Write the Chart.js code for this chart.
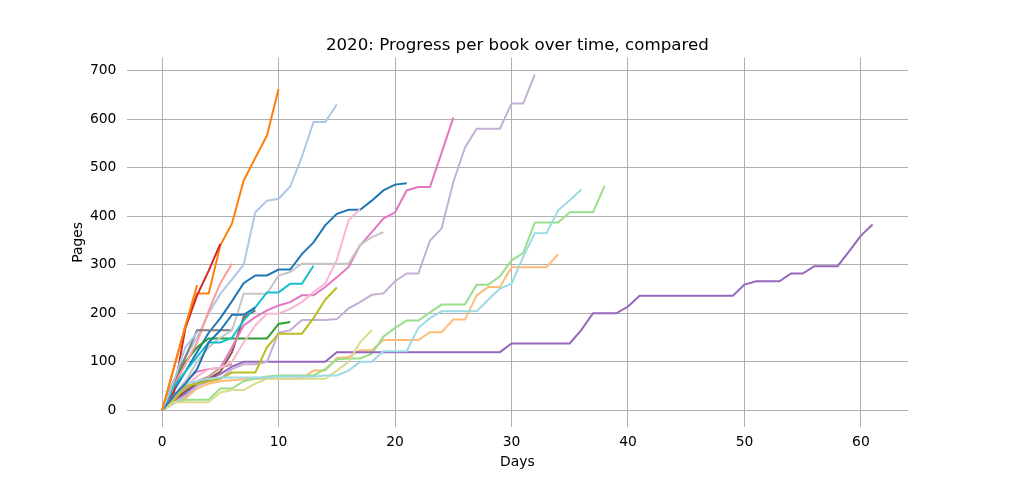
<!DOCTYPE html>
<html>
<head>
<meta charset="utf-8">
<script src="https://cdn.jsdelivr.net/npm/chart.js@4.4.0/dist/chart.umd.min.js"></script>
<style>
  html, body { margin: 0; padding: 0; background: #fff; }
</style>
</head>
<body>
<canvas id="progressChart" width="1009" height="480"></canvas>
<script>
// pages read per book, one value per day since starting it
const book1  = [0, 40, 80, 120, 160, 190, 225, 262, 278, 278, 290, 290, 322, 346, 381, 405, 413, 413, 432, 453, 465, 468];
const book2  = [0, 60, 110, 150, 200, 240, 270, 300, 408, 432, 436, 461, 522, 594, 594, 630];
const book3  = [0, 87, 174, 241, 241, 340, 385, 473, 520, 566, 662];
const book4  = [0, 15, 25, 45, 55, 60, 62, 64, 65, 65, 65, 65, 66, 82, 82, 108, 110, 124, 124, 145, 145, 145, 145, 161, 161, 187, 187, 237, 254, 254, 295, 295, 295, 295, 321];
const book5  = [0, 60, 100, 130, 148, 148, 148, 148, 148, 148, 178, 182];
const book6  = [0, 15, 22, 22, 22, 45, 45, 60, 65, 70, 72, 72, 72, 72, 85, 105, 107, 107, 117, 152, 170, 185, 185, 202, 218, 218, 218, 259, 259, 276, 309, 324, 387, 387, 387, 408, 408, 408, 463];
const book7  = [0, 35, 170, 237, 288, 343];
const book8  = [0, 50, 95, 140, 205, 262, 302];
const book9  = [0, 20, 35, 55, 65, 75, 90, 100, 100, 100, 100, 100, 100, 100, 100, 120, 120, 120, 120, 120, 120, 120, 120, 120, 120, 120, 120, 120, 120, 120, 138, 138, 138, 138, 138, 138, 166, 200, 200, 200, 214, 236, 236, 236, 236, 236, 236, 236, 236, 236, 259, 266, 266, 266, 282, 282, 297, 297, 297, 328, 360, 383];
const book10 = [0, 15, 30, 50, 60, 65, 85, 95, 95, 100, 160, 165, 186, 186, 186, 188, 210, 223, 238, 241, 266, 282, 282, 350, 375, 470, 541, 580, 580, 580, 632, 632, 692];
const book11 = [0, 20, 40, 55, 65, 80, 120, 192, 206];
const book12 = [0, 25, 45, 60, 70, 88, 95];
const book13 = [0, 30, 60, 80, 85, 88, 130, 175, 192, 206, 216, 223, 237, 237, 254, 274, 295, 340, 367, 395, 408, 453, 460, 460, 531, 603];
const book14 = [0, 20, 50, 70, 85, 88, 100, 140, 175, 199, 199, 209, 223, 244, 261, 310, 391, 415];
const book15 = [0, 60, 110, 165, 165, 165, 165];
const book16 = [0, 30, 60, 100, 130, 150, 165, 240, 240, 240, 278, 285, 302, 302, 302, 302, 302, 341, 357, 367];
const book17 = [0, 20, 50, 55, 60, 65, 78, 78, 78, 130, 158, 158, 158, 190, 228, 253];
const book18 = [0, 17, 17, 17, 17, 37, 42, 42, 55, 65, 65, 65, 65, 65, 65, 82, 100, 140, 165];
const book19 = [0, 50, 80, 110, 140, 140, 150, 185, 212, 243, 243, 261, 261, 298];
const book20 = [0, 30, 55, 60, 65, 68, 68, 68, 68, 68, 70, 70, 70, 70, 72, 72, 82, 100, 100, 122, 122, 122, 170, 190, 204, 204, 204, 204, 228, 251, 261, 316, 365, 365, 412, 433, 455];
const book21 = [0, 30, 55, 85, 140, 165, 197, 197, 212];
const book22 = [0, 60, 130, 160];
const book23 = [0, 87, 174, 258];

const books = [book1, book2, book3, book4, book5, book6, book7, book8, book9, book10,
               book11, book12, book13, book14, book15, book16, book17, book18, book19, book20,
               book21, book22, book23];

const xTicks = [0, 10, 20, 30, 40, 50, 60];
const yTicks = [0, 100, 200, 300, 400, 500, 600, 700];
const chartTitle = '2020: Progress per book over time, compared';

// matplotlib tab20
const tab20 = ['#1f77b4', '#aec7e8', '#ff7f0e', '#ffbb78', '#2ca02c', '#98df8a', '#d62728', '#ff9896',
               '#9467bd', '#c5b0d5', '#8c564b', '#c49c94', '#e377c2', '#f7b6d2', '#7f7f7f', '#c7c7c7',
               '#bcbd22', '#dbdb8d', '#17becf', '#9edae5'];

const FONT = 'DejaVu Sans';

const datasets = books.map((b, i) => ({
    data: b.map((v, d) => ({ x: d, y: v })),
    borderColor: tab20[i % 20],
    backgroundColor: tab20[i % 20],
    borderWidth: 2,
    pointRadius: 0,
    tension: 0,
    fill: false,
    order: books.length - i   // later books on top, like matplotlib
}));

const titlePlugin = {
    id: 'plotTitle',
    afterDraw(chart) {
        const { ctx, chartArea } = chart;
        ctx.save();
        ctx.font = '16.67px "' + FONT + '"';
        ctx.fillStyle = '#000';
        ctx.textAlign = 'center';
        ctx.textBaseline = 'alphabetic';
        ctx.fillText(chartTitle, (chartArea.left + chartArea.right) / 2, 49.5);
        ctx.restore();
    }
};

const ctx = document.getElementById('progressChart').getContext('2d');
new Chart(ctx, {
    type: 'line',
    data: { datasets },
    plugins: [titlePlugin],
    options: {
        responsive: false,
        animation: false,
        devicePixelRatio: 1,
        layout: { padding: { top: 57.6, right: 100.9, left: 0, bottom: 0 } },
        plugins: { legend: { display: false }, tooltip: { enabled: false } },
        scales: {
            x: {
                type: 'linear',
                min: -3.05,
                max: 64.05,
                afterBuildTicks: s => { s.ticks = xTicks.map(v => ({ value: v })); },
                afterFit: s => { s.height = 52.8; },
                grid: { color: '#b0b0b0', lineWidth: 1, drawTicks: false },
                border: { display: false },
                ticks: { color: '#000', padding: 7, font: { family: FONT, size: 13.89 } },
                title: { display: true, text: 'Days', color: '#000',
                         font: { family: FONT, size: 13.89 }, padding: { top: 0, bottom: 9.7 } }
            },
            y: {
                type: 'linear',
                min: -34.6,
                max: 726.6,
                afterBuildTicks: s => { s.ticks = yTicks.map(v => ({ value: v })); },
                afterFit: s => { s.width = 126.6; },
                grid: { color: '#b0b0b0', lineWidth: 1, drawTicks: false },
                border: { display: false },
                ticks: { color: '#000', padding: 10.2, font: { family: FONT, size: 13.89 } },
                title: { display: true, text: 'Pages', color: '#000',
                         font: { family: FONT, size: 13.89 }, padding: { top: 69.7, bottom: 0 } }
            }
        }
    }
});
</script>
</body>
</html>
